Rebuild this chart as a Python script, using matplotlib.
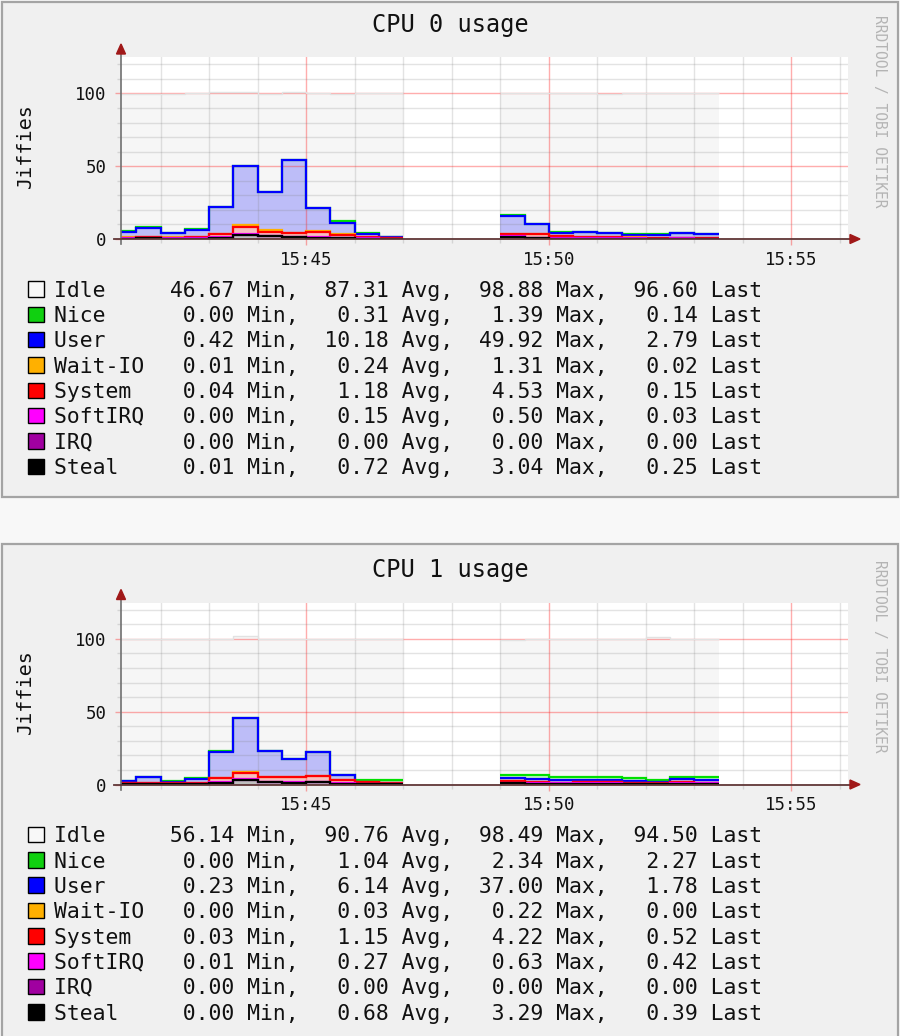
#!/usr/bin/env python3
"""Redraw the two collectd/rrdtool "CPU n usage" graphs (stacked jiffies)."""

from __future__ import annotations

import matplotlib

matplotlib.use("Agg")
import matplotlib.pyplot as plt
import numpy as np
from matplotlib.lines import Line2D
from matplotlib.patches import Polygon, Rectangle

W, H = 900, 1036
MONO = "DejaVu Sans Mono"

# 30 s consolidation steps, first one starting at 15:41:00; None = unknown
STEP_START = "15:41:00"
STEP_SECONDS = 30
VIEW_START = "15:41:11"
VIEW_END = "15:56:10"

# legend order (top to bottom); stacking is the reverse
NAMES = ["Idle", "Nice", "User", "Wait-IO", "System", "SoftIRQ", "IRQ", "Steal"]

cpu0_steal = [0.30, 0.40, 0.30, 0.30, 1.00, 3.04, 1.80, 1.20, 1.00, 0.50, 0.30, 0.20,
              None, None, None, None,
              1.60, 0.80, 0.30, 0.30, 0.30, 0.30, 0.20, 0.30, 0.25]
cpu0_irq = [0.00, 0.00, 0.00, 0.00, 0.00, 0.00, 0.00, 0.00, 0.00, 0.00, 0.00, 0.00,
            None, None, None, None,
            0.00, 0.00, 0.00, 0.00, 0.00, 0.00, 0.00, 0.00, 0.00]
cpu0_softirq = [0.10, 0.10, 0.10, 0.10, 0.20, 0.50, 0.30, 0.30, 0.20, 0.10, 0.10, 0.00,
                None, None, None, None,
                0.20, 0.20, 0.30, 0.20, 0.20, 0.10, 0.10, 0.10, 0.03]
cpu0_system = [0.60, 0.70, 0.60, 0.70, 2.00, 4.53, 3.00, 2.50, 3.50, 2.00, 0.80, 0.50,
               None, None, None, None,
               1.50, 2.50, 1.20, 0.80, 0.80, 0.60, 0.50, 0.50, 0.15]
cpu0_wait = [0.10, 0.10, 0.10, 0.10, 0.50, 1.31, 0.80, 0.30, 0.80, 0.60, 0.20, 0.10,
             None, None, None, None,
             0.40, 0.20, 0.10, 0.10, 0.05, 0.05, 0.05, 0.05, 0.02]
cpu0_user = [3.90, 6.40, 3.20, 5.20, 18.30, 40.60, 26.30, 49.92, 15.90, 7.50, 1.80, 0.42,
             None, None, None, None,
             12.30, 6.30, 2.30, 3.30, 2.65, 1.95, 1.65, 2.85, 2.79]
cpu0_nice = [0.20, 0.20, 0.10, 0.20, 0.20, 0.30, 0.30, 0.20, 0.20, 1.39, 1.00, 0.30,
             None, None, None, None,
             0.20, 0.30, 0.50, 0.40, 0.40, 0.50, 1.00, 0.30, 0.14]
cpu0_idle = [94.5, 92.0, 95.5, 93.5, 78.5, 50.5, 67.0, 46.67, 78.5, 87.5, 96.0, 98.88,
             None, None, None, None,
             84.0, 90.0, 95.5, 95.0, 95.5, 96.5, 96.5, 96.0, 96.60]

cpu1_steal = [0.20, 0.30, 0.20, 0.30, 1.20, 3.29, 1.50, 1.20, 1.50, 0.60, 0.30, 0.20,
              None, None, None, None,
              0.80, 0.50, 0.40, 0.40, 0.40, 0.30, 0.30, 0.40, 0.39]
cpu1_irq = [0.00, 0.00, 0.00, 0.00, 0.00, 0.00, 0.00, 0.00, 0.00, 0.00, 0.00, 0.00,
            None, None, None, None,
            0.00, 0.00, 0.00, 0.00, 0.00, 0.00, 0.00, 0.00, 0.00]
cpu1_softirq = [0.10, 0.20, 0.10, 0.20, 0.40, 0.63, 0.40, 0.40, 0.50, 0.30, 0.20, 0.10,
                None, None, None, None,
                0.30, 0.40, 0.30, 0.40, 0.40, 0.30, 0.30, 0.40, 0.42]
cpu1_system = [0.50, 0.80, 0.40, 0.80, 3.00, 4.22, 3.00, 3.50, 4.00, 2.00, 1.00, 0.60,
               None, None, None, None,
               1.40, 1.00, 0.60, 0.60, 0.60, 0.50, 0.30, 0.60, 0.52]
cpu1_wait = [0.00, 0.05, 0.00, 0.05, 0.15, 0.22, 0.10, 0.10, 0.15, 0.05, 0.00, 0.00,
             None, None, None, None,
             0.05, 0.03, 0.00, 0.00, 0.00, 0.00, 0.00, 0.00, 0.00]
cpu1_user = [1.70, 3.65, 1.30, 2.65, 17.75, 37.00, 17.80, 12.30, 15.85, 3.45, 0.50, 0.23,
             None, None, None, None,
             1.85, 1.97, 1.50, 1.60, 2.00, 1.40, 1.10, 2.70, 1.78]
cpu1_nice = [0.10, 0.20, 0.10, 0.20, 0.30, 0.30, 0.30, 0.30, 0.40, 0.40, 1.40, 1.80,
             None, None, None, None,
             2.34, 2.30, 2.30, 2.30, 2.00, 1.90, 1.00, 1.20, 2.27]
cpu1_idle = [97.4, 94.8, 97.9, 95.8, 77.2, 56.14, 77.0, 82.3, 77.6, 93.2, 96.6, 97.1,
             None, None, None, None,
             92.8, 93.8, 94.9, 94.7, 94.6, 95.6, 98.49, 94.7, 94.50]

# legend statistics, NAMES order
cpu0_min = [46.67, 0.00, 0.42, 0.01, 0.04, 0.00, 0.00, 0.01]
cpu0_avg = [87.31, 0.31, 10.18, 0.24, 1.18, 0.15, 0.00, 0.72]
cpu0_max = [98.88, 1.39, 49.92, 1.31, 4.53, 0.50, 0.00, 3.04]
cpu0_last = [96.60, 0.14, 2.79, 0.02, 0.15, 0.03, 0.00, 0.25]

cpu1_min = [56.14, 0.00, 0.23, 0.00, 0.03, 0.01, 0.00, 0.00]
cpu1_avg = [90.76, 1.04, 6.14, 0.03, 1.15, 0.27, 0.00, 0.68]
cpu1_max = [98.49, 2.34, 37.00, 0.22, 4.22, 0.63, 0.00, 3.29]
cpu1_last = [94.50, 2.27, 1.78, 0.00, 0.52, 0.42, 0.00, 0.39]

LINE = {"Idle": "#e2e2e2", "Nice": "#00e000", "User": "#0000ff", "Wait-IO": "#ffb000",
        "System": "#ff0000", "SoftIRQ": "#ff00ff", "IRQ": "#a000a0", "Steal": "#000000"}
FILL = {"Idle": "#f6f6f6", "Nice": "#bff7bf", "User": "#bdbdf8", "Wait-IO": "#ffebbf",
        "System": "#f7bfbf", "SoftIRQ": "#ffbfff", "IRQ": "#e7bfe7", "Steal": "#bfbfbf"}
SWATCH = dict(LINE, Idle="#f8f8f8", Nice="#10d010")


def minutes(hms: str) -> float:
    """Minutes after 15:40:00."""
    h, m, s = (int(v) for v in hms.split(":"))
    return (h * 3600 + m * 60 + s - (15 * 3600 + 40 * 60)) / 60.0


def fx(x: float) -> float:
    return x / W


def fy(y: float) -> float:
    return 1 - y / H


def runs(mask: np.ndarray) -> list[tuple[int, int]]:
    out = []
    i = 0
    while i < len(mask):
        if mask[i]:
            j = i
            while j < len(mask) and mask[j]:
                j += 1
            out.append((i, j))
            i = j
        else:
            i += 1
    return out


def draw_panel(fig, top: float, cpu: int, series: dict, stats: tuple) -> None:
    zero_y = top + 239
    ax = fig.add_axes([fx(121), fy(zero_y), 727 / W, 182 / H])
    ax.set_facecolor("white")
    for s in ax.spines.values():
        s.set_visible(False)

    stack = NAMES[::-1]
    vals = np.array([np.array(series[n], dtype=float) for n in stack])
    cum = np.cumsum(vals, axis=0)
    n = vals.shape[1]
    edges = minutes(STEP_START) + np.arange(n + 1) * STEP_SECONDS / 60.0

    for lo, hi in runs(~np.isnan(cum[0])):
        e = edges[lo:hi + 1]
        base = np.zeros(hi - lo)
        for k, name in enumerate(stack):
            ax.stairs(cum[k, lo:hi], e, baseline=base, fill=True,
                      color=FILL[name], lw=0, zorder=1.5)
            base = cum[k, lo:hi]
        for k in range(len(stack) - 1, -1, -1):
            ax.stairs(cum[k, lo:hi], e, baseline=None, color=LINE[stack[k]],
                      lw=1.0 if stack[k] == "Idle" else 1.6, zorder=3)

    ax.set_xlim(minutes(VIEW_START), minutes(VIEW_END))
    ax.set_ylim(0, 125)
    ax.set_xticks([minutes("15:45:00"), minutes("15:50:00"), minutes("15:55:00")])
    ax.set_xticklabels(["15:45", "15:50", "15:55"])
    ax.set_xticks([minutes(f"15:{m:02d}:00") for m in range(42, 57)], minor=True)
    ax.set_yticks([0, 50, 100])
    ax.set_yticklabels(["0", "50", "100"])
    ax.set_yticks([10, 20, 30, 40, 60, 70, 80, 90, 110, 120], minor=True)
    ax.set_axisbelow(False)
    ax.grid(which="minor", color="#808080", alpha=0.22, lw=1.0)
    ax.grid(which="major", color="#ff2828", alpha=0.38, lw=1.0)
    ax.tick_params(which="major", length=4, width=1, color="#f4a0a0")
    ax.tick_params(which="minor", length=3, width=1, color="#d4d4d4")
    ax.tick_params(axis="y", which="major", pad=6.5)
    ax.tick_params(axis="x", which="major", pad=4.5)
    for lab in ax.get_xticklabels() + ax.get_yticklabels():
        lab.set_fontfamily(MONO)
        lab.set_fontsize(12.5)
        lab.set_color("#111111")

    # axes and arrows
    fig.add_artist(Line2D([fx(121), fx(121)], [fy(zero_y + 5), fy(top + 50)],
                          transform=fig.transFigure, color="#707070", lw=1.2, zorder=5))
    fig.add_artist(Line2D([fx(114), fx(852)], [fy(zero_y), fy(zero_y)],
                          transform=fig.transFigure, color="#603838", lw=1.3, zorder=5))
    fig.add_artist(Polygon([(fx(121), fy(top + 44)), (fx(116.5), fy(top + 54)),
                            (fx(125.5), fy(top + 54))], closed=True,
                           transform=fig.transFigure, color="#a01818", zorder=5))
    fig.add_artist(Polygon([(fx(860), fy(zero_y)), (fx(850), fy(zero_y - 4.5)),
                            (fx(850), fy(zero_y + 4.5))], closed=True,
                           transform=fig.transFigure, color="#a01818", zorder=5))

    fig.text(fx(450), fy(top + 31.7), f"CPU {cpu} usage", family=MONO, fontsize=17,
             ha="center", va="baseline", color="#111111")
    fig.text(fx(25), fy(top + 146), "Jiffies", family=MONO, fontsize=14.5,
             rotation=90, ha="center", va="center", color="#111111")
    fig.text(fx(880), fy(top + 111), "RRDTOOL / TOBI OETIKER", family=MONO,
             fontsize=10.5, rotation=270, ha="center", va="center", color="#b4b4b4")

    mins, avgs, maxs, lasts = stats
    for i, name in enumerate(NAMES):
        base_y = top + 296.7 + i * 25.33
        fig.add_artist(Rectangle((fx(28), fy(base_y)), 15.5 / W, 15.5 / H,
                                 transform=fig.transFigure, facecolor=SWATCH[name],
                                 edgecolor="black", lw=1.0, zorder=5))
        line = (f"{name:<8}{mins[i]:6.2f} Min, {avgs[i]:6.2f} Avg, "
                f"{maxs[i]:6.2f} Max, {lasts[i]:6.2f} Last")
        fig.text(fx(53.5), fy(base_y), line, family=MONO, fontsize=15.4,
                 ha="left", va="baseline", color="#111111")


def main() -> None:
    fig = plt.figure(figsize=(W / 100, H / 100), dpi=100, facecolor="#f8f8f8")

    # panel frames, kept behind the axes
    fig.add_artist(Rectangle((fx(1.5), fy(497)), 896.5 / W, 495.5 / H,
                             transform=fig.transFigure, facecolor="#f0f0f0",
                             edgecolor="#a4a4a4", lw=1.6, zorder=-10))
    fig.add_artist(Rectangle((fx(1.5), fy(1045)), 896.5 / W, (1045 - 543.5) / H,
                             transform=fig.transFigure, facecolor="#f0f0f0",
                             edgecolor="#a4a4a4", lw=1.6, zorder=-10))

    cpu0 = {"Idle": cpu0_idle, "Nice": cpu0_nice, "User": cpu0_user, "Wait-IO": cpu0_wait,
            "System": cpu0_system, "SoftIRQ": cpu0_softirq, "IRQ": cpu0_irq,
            "Steal": cpu0_steal}
    cpu1 = {"Idle": cpu1_idle, "Nice": cpu1_nice, "User": cpu1_user, "Wait-IO": cpu1_wait,
            "System": cpu1_system, "SoftIRQ": cpu1_softirq, "IRQ": cpu1_irq,
            "Steal": cpu1_steal}

    draw_panel(fig, 0, 0, cpu0, (cpu0_min, cpu0_avg, cpu0_max, cpu0_last))
    draw_panel(fig, 545.5, 1, cpu1, (cpu1_min, cpu1_avg, cpu1_max, cpu1_last))

    fig.savefig("out.png", dpi=100, facecolor=fig.get_facecolor())
    plt.close(fig)


if __name__ == "__main__":
    main()
